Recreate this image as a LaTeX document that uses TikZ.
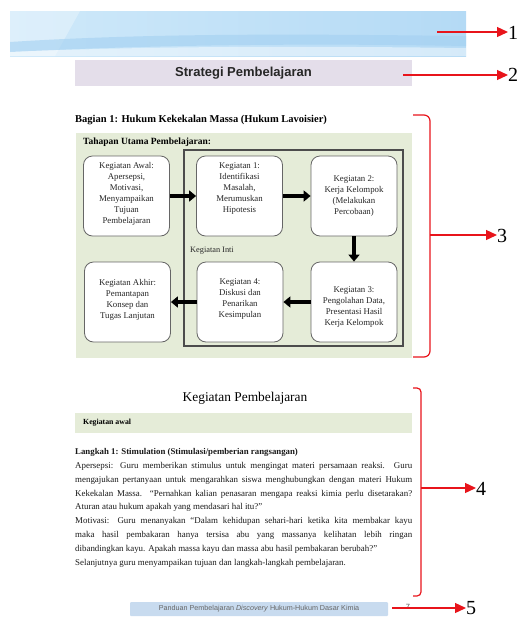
\documentclass[tikz,border=0pt]{standalone}
\usepackage{fontspec}
\setmainfont{Liberation Serif}
\setsansfont{Liberation Sans}
\usetikzlibrary{arrows.meta}
\definecolor{bannerL}{HTML}{CFE9FA}
\definecolor{bannerR}{HTML}{B4DAF5}
\definecolor{bannerD}{HTML}{A3D0F1}
\definecolor{titlebar}{HTML}{E4DEEA}
\definecolor{softgreen}{HTML}{E5ECD8}
\definecolor{footblue}{HTML}{C8DBEF}
\definecolor{callred}{HTML}{E8141B}
\begin{document}
\begin{tikzpicture}[x=1pt,y=-1pt,
  stagebox/.style={draw=black!60,line width=0.8pt,fill=white,rounded corners=9pt,
    minimum width=86pt,minimum height=80pt,inner sep=0pt},
  stagetext/.style={font=\fontsize{8.8}{11}\selectfont,align=center,inner sep=0pt,text=black!85},
  bigarrow/.style={line width=3.6pt,-{Triangle[length=7pt,width=11pt]}},
  callout/.style={draw=callred,line width=1.3pt,-{Triangle[length=11pt,width=10pt]}},
  bracket/.style={draw=callred,line width=1.2pt},
  numlabel/.style={font=\fontsize{20}{20}\selectfont,anchor=west,inner sep=0pt},
  bodyline/.style={font=\fontsize{8.9}{11}\selectfont,anchor=base west,inner sep=0pt,text=black!90}]
\useasboundingbox (0,0) rectangle (523,619);

% 1: banner
\shade[left color=bannerL,right color=bannerR] (10,11) rectangle (466,56);
\fill[white,opacity=0.3] (10,11) -- (80,11) -- (55,56) -- (10,56) -- cycle;
\fill[bannerD,opacity=0.6] (10,42) .. controls (150,33) and (300,34) .. (466,36)
  -- (466,46) .. controls (300,43) and (150,45) .. (10,52) -- cycle;
\fill[white,opacity=0.45] (10,52) .. controls (150,46) and (300,46) .. (466,48)
  -- (466,56) -- (10,56) -- cycle;
\node[inner sep=0pt,minimum width=456pt,minimum height=45pt] (banner) at (238,33.5) {};

% 2: title bar
\node[fill=titlebar,minimum width=337pt,minimum height=26pt,inner sep=0pt,
  font=\sffamily\bfseries\fontsize{13}{14}\selectfont,text=black!85] (titlebar) at (243.5,73) {Strategi Pembelajaran};

% 3: section
\node[anchor=west,inner sep=0pt,font=\bfseries\fontsize{10.5}{12}\selectfont] (bagian) at (75,120)
  {Bagian 1: Hukum Kekekalan Massa (Hukum Lavoisier)};
\fill[softgreen] (76,133) rectangle (412,358);
\node[anchor=west,inner sep=0pt,font=\bfseries\fontsize{9.5}{11}\selectfont] (tahapan) at (83,142)
  {Tahapan Utama Pembelajaran:};
\draw[black!70,line width=1.1pt] (184,150) rectangle (403,346);
\node[anchor=west,inner sep=0pt,font=\fontsize{8.3}{10}\selectfont,text=black!85] (inti) at (190,251) {Kegiatan Inti};

\node[stagebox] (awal) at (126.5,196) {};
\node[stagebox] (k1) at (239.5,196) {};
\node[stagebox] (k2) at (354,196) {};
\node[stagebox] (akhir) at (127.5,302) {};
\node[stagebox] (k4) at (240,302) {};
\node[stagebox] (k3) at (354,302) {};

\node[stagetext] (tawal) at (126.5,194) {Kegiatan Awal:\\Apersepsi,\\Motivasi,\\Menyampaikan\\Tujuan\\Pembelajaran};
\node[stagetext] (tk1) at (239.5,189) {Kegiatan 1:\\Identifikasi\\Masalah,\\Merumuskan\\Hipotesis};
\node[stagetext] (tk2) at (354,196) {Kegiatan 2:\\Kerja Kelompok\\(Melakukan\\Percobaan)};
\node[stagetext] (takhir) at (127.5,300) {Kegiatan Akhir:\\Pemantapan\\Konsep dan\\Tugas Lanjutan};
\node[stagetext] (tk4) at (240,299) {Kegiatan 4:\\Diskusi dan\\Penarikan\\Kesimpulan};
\node[stagetext] (tk3) at (354,307) {Kegiatan 3:\\Pengolahan Data,\\Presentasi Hasil\\Kerja Kelompok};

\draw[bigarrow] (awal.east) -- (k1.west);
\draw[bigarrow] (k1.east) -- (k2.west);
\draw[bigarrow] (k2.south) -- (k3.north);
\draw[bigarrow] (k3.west) -- (k4.east);
\draw[bigarrow] (k4.west) -- (akhir.east);

% 4: Kegiatan Pembelajaran
\node[inner sep=0pt,font=\fontsize{13.4}{15}\selectfont] (kpheading) at (245,398) {Kegiatan Pembelajaran};
\fill[softgreen] (75,413) rectangle (412,433);
\node[anchor=west,inner sep=0pt,font=\bfseries\fontsize{7.8}{9}\selectfont] (kawal) at (83,423) {Kegiatan awal};
\node[bodyline,font=\bfseries\fontsize{8.8}{11}\selectfont] (langkah) at (75,454)
  {Langkah 1: Stimulation (Stimulasi/pemberian rangsangan)};
\node[bodyline] (l1) at (75,468.5) {\makebox[337pt][s]{Apersepsi: Guru memberikan stimulus untuk mengingat materi persamaan reaksi. Guru}};
\node[bodyline] (l2) at (75,482.3) {\makebox[337pt][s]{mengajukan pertanyaan untuk mengarahkan siswa menghubungkan dengan materi Hukum}};
\node[bodyline] (l3) at (75,496.1) {\makebox[337pt][s]{Kekekalan Massa. “Pernahkan kalian penasaran mengapa reaksi kimia perlu disetarakan?}};
\node[bodyline] (l4) at (75,509.9) {Aturan atau hukum apakah yang mendasari hal itu?”};
\node[bodyline] (l5) at (75,523.7) {\makebox[337pt][s]{Motivasi: Guru menanyakan “Dalam kehidupan sehari-hari ketika kita membakar kayu}};
\node[bodyline] (l6) at (75,537.5) {\makebox[337pt][s]{maka hasil pembakaran hanya tersisa abu yang massanya kelihatan lebih ringan}};
\node[bodyline] (l7) at (75,551.3) {dibandingkan kayu. Apakah massa kayu dan massa abu hasil pembakaran berubah?”};
\node[bodyline] (l8) at (75,565) {Selanjutnya guru menyampaikan tujuan dan langkah-langkah pembelajaran.};

% 5: footer
\node[fill=footblue,minimum width=258pt,minimum height=14pt,inner sep=0pt,rounded corners=1pt,
  font=\sffamily\fontsize{7.2}{8}\selectfont,text=black!60] (footer) at (259,609)
  {Panduan Pembelajaran \textit{Discovery} Hukum-Hukum Dasar Kimia};
\node[inner sep=0pt,font=\sffamily\fontsize{7.5}{8}\selectfont,text=black!70] (pagenum) at (408,607) {7};

% brackets
\draw[bracket] (413,115) -- (424,115) to[out=0,in=90] (430,121) -- (430,351) to[out=-90,in=0] (424,357) -- (413,357);
\draw[bracket] (413,388) -- (417,388) to[out=0,in=90] (421,392) -- (421,592) to[out=-90,in=0] (417,596) -- (413,596);

% callouts
\node[numlabel] (n1) at (508,33) {1};
\node[numlabel] (n2) at (508,75) {2};
\node[numlabel] (n3) at (497,236) {3};
\node[numlabel] (n4) at (476,489) {4};
\node[numlabel] (n5) at (466,608) {5};
\coordinate (a1) at (437,32);
\coordinate (a2) at (403,75);
\coordinate (a3) at (430,235);
\coordinate (a4) at (421,488);
\coordinate (a5) at (392,608);
\draw[callout] (a1) -- (a1 -| n1.west);
\draw[callout] (a2) -- (a2 -| n2.west);
\draw[callout] (a3) -- (a3 -| n3.west);
\draw[callout] (a4) -- (a4 -| n4.west);
\draw[callout] (a5) -- (a5 -| n5.west);
\end{tikzpicture}
\end{document}
